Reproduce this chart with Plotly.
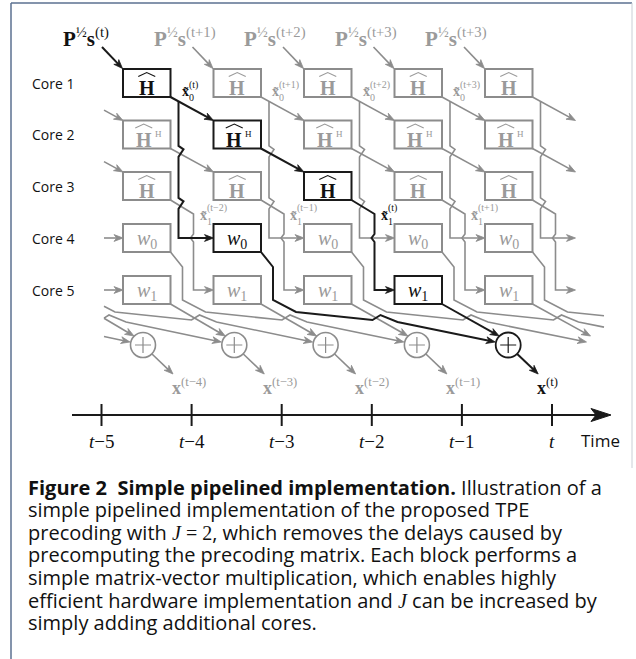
import math
import plotly.graph_objects as go

# ---------------- data ----------------
CORES = ["Core 1", "Core 2", "Core 3", "Core 4", "Core 5"]
BLOCKS = ["H", "HH", "H", "w0", "w1"]          # operation of each core
HIGHLIGHT = [0, 1, 2, 1, 3]                    # highlighted pipeline column per core
SUM_HIGHLIGHT = 4
INPUT_SUPS = ["(t)", "(t+1)", "(t+2)", "(t+3)", "(t+3)"]
X0_SUPS = ["(t)", "(t+1)", "(t+2)", "(t+3)"]
X1_SUPS = ["(t−2)", "(t−1)", "(t)", "(t+1)"]
OUT_SUPS = ["(t−4)", "(t−3)", "(t−2)", "(t−1)", "(t)"]
TIME_TICKS = ["−5", "−4", "−3", "−2", "−1", ""]
CAPTION = [
    "<b>Figure 2  Simple pipelined implementation.</b> Illustration of a",
    "simple pipelined implementation of the proposed TPE",
    "precoding with <span style=\"font-family:'Liberation Serif'\"><i>J</i> = 2</span>, which removes the delays caused by",
    "precomputing the precoding matrix. Each block performs a",
    "simple matrix-vector multiplication, which enables highly",
    "efficient hardware implementation and <span style=\"font-family:'Liberation Serif'\"><i>J</i></span> can be increased by",
    "simply adding additional cores.",
]

# ---------------- layout constants ----------------
W, H = 636, 659
X0, DX, BW, BH = 123.0, 90.5, 47.5, 28.0
ROWY = [83.0, 134.5, 186.0, 238.0, 290.0]
CX0, CDX, CY, CR = 143.0, 91.3, 345.0, 12.5
CLIP = (104.0, 604.0)
GRAY, GRAYT, BLK = "#8c8c8c", "#9a9a9a", "#1a1a1a"
SERIF = "Liberation Serif"
SANS = "Open Sans"

gray_sh, black_sh, top_sh, annots = [], [], [], []


def P(pts):
    return "M " + " L ".join(f"{x:.2f},{y:.2f}" for x, y in pts)


def clip_seg(a, b, lo, hi):
    (xa, ya), (xb, yb) = a, b
    t0, t1 = 0.0, 1.0
    dx = xb - xa
    if abs(dx) < 1e-9:
        if xa < lo or xa > hi:
            return None
    else:
        ta, tb = (lo - xa) / dx, (hi - xa) / dx
        t0 = max(t0, min(ta, tb))
        t1 = min(t1, max(ta, tb))
        if t0 > t1:
            return None
    return ((xa + t0 * dx, ya + t0 * (yb - ya)), (xa + t1 * dx, ya + t1 * (yb - ya)))


def clip_poly(pts, lo, hi):
    out, cur = [], []
    for a, b in zip(pts[:-1], pts[1:]):
        s = clip_seg(a, b, lo, hi)
        if s is None:
            if cur:
                out.append(cur)
                cur = []
            continue
        p, q = s
        if cur and abs(cur[-1][0] - p[0]) < 1e-6 and abs(cur[-1][1] - p[1]) < 1e-6:
            cur.append(q)
        else:
            if cur:
                out.append(cur)
            cur = [p, q]
    if cur:
        out.append(cur)
    return out


def arrowhead(tip, prev, color, L=9.0, Wd=3.4):
    ux, uy = tip[0] - prev[0], tip[1] - prev[1]
    n = math.hypot(ux, uy)
    ux, uy = ux / n, uy / n
    bx, by = tip[0] - L * ux, tip[1] - L * uy
    nx, ny = -uy, ux
    p1 = (bx + Wd * nx, by + Wd * ny)
    p2 = (bx - Wd * nx, by - Wd * ny)
    notch = (tip[0] - 0.7 * L * ux, tip[1] - 0.7 * L * uy)
    return dict(type="path", path=P([tip, p1, notch, p2]) + " Z", fillcolor=color,
                line=dict(color=color, width=0.8), xref="x", yref="y")


def wire(pts, black=False, arrow=False, clip=True):
    color = BLK if black else GRAY
    width = 2.0 if black else 1.6
    target = black_sh if black else gray_sh
    draw = list(pts)
    if arrow:
        tip, prev = pts[-1], pts[-2]
        ux, uy = tip[0] - prev[0], tip[1] - prev[1]
        n = math.hypot(ux, uy)
        draw[-1] = (tip[0] - 5 * ux / n, tip[1] - 5 * uy / n)
    segs = clip_poly(draw, *CLIP) if clip else [draw]
    for s in segs:
        target.append(dict(type="path", path=P(s), line=dict(color=color, width=width),
                           xref="x", yref="y"))
    if arrow and (not clip or CLIP[0] <= pts[-1][0] <= CLIP[1]):
        target.append(arrowhead(pts[-1], pts[-2], color))


def hop(x, y):
    return [(x, y - 7), (x + 5, y - 3.5), (x, y + 4)]


def bump(x, y):
    return [(x, y - 4), (x - 3, y), (x, y + 4)]


top = [y - BH / 2 for y in ROWY]
bot = [y + BH / 2 for y in ROWY]

# ---------------- wiring ----------------
for i in range(-4, 5):
    x0 = X0 + i * DX
    x1 = x0 + BW
    xn = x0 + DX
    if i >= -1:
        wire([(x1, bot[0]), (xn, top[1])], black=(i == HIGHLIGHT[0]), arrow=True)
        xb = x1 + 8
        ya = bot[0] + (top[1] - bot[0]) / (xn - x1) * 8
        yc = bot[1] + (top[2] - bot[1]) / (xn - x1) * 8
        yd = bot[2] + 14 * 8 / 23
        pts = [(xb, ya)] + hop(xb, yc) + hop(xb, yd) + [(xb, ROWY[3]), (xn, ROWY[3])]
        wire(pts, black=(i == HIGHLIGHT[0]), arrow=True)
        wire([(x1, bot[1]), (xn, top[2])], black=(i == HIGHLIGHT[1]), arrow=True)
        xd = x1 + 23
        pts = [(x1, bot[2]), (xd, bot[2] + 14)] + bump(xd, ROWY[3]) + [(xd, ROWY[4]), (xn, ROWY[4])]
        wire(pts, black=(i == HIGHLIGHT[2]), arrow=True)
    cx = CX0 + (i + 3) * CDX
    pts = [(x1, bot[3]), (x1 + 12, bot[3] + 15), (x1 + 12, 300), (x1 + 35, 312),
           (x1 + 111.5, 320), (x1 + 119.5, 315), (x1 + 136.5, 322), (cx - CR - 0.5, CY - 3)]
    wire(pts, black=(i == HIGHLIGHT[3]), arrow=True)
    cx1 = CX0 + (i + 1) * CDX
    wire([(x1, bot[4]), (cx1 - 0.72 * CR, CY - 0.72 * CR)], black=(i == HIGHLIGHT[4]), arrow=True)

for i in range(5):
    x0 = X0 + i * DX
    wire([(x0 - 21, 47), (x0 - 0.5, 68.5)], black=(i == 0), arrow=True, clip=False)
for k in range(5):
    cx = CX0 + k * CDX
    wire([(cx + 0.72 * CR, CY + 0.72 * CR), (cx + 30, CY + 29)], black=(k == SUM_HIGHLIGHT),
         arrow=True, clip=False)

# ---------------- boxes & texts ----------------
for r in range(5):
    annots.append(dict(x=30, y=ROWY[r], text=CORES[r], xanchor="left", yanchor="middle",
                       showarrow=False, font=dict(family=SANS, size=14, color="#111111")))
    for i in range(5):
        hl = (i == HIGHLIGHT[r])
        x0 = X0 + i * DX
        x1 = x0 + BW
        xc = (x0 + x1) / 2
        col = BLK if hl else GRAY
        tcol = "#111111" if hl else GRAYT
        top_sh.append(dict(type="rect", x0=x0, x1=x1, y0=top[r], y1=bot[r], xref="x", yref="y",
                           line=dict(color=col, width=2.0), fillcolor="white"))
        b = BLOCKS[r]
        if b in ("H", "HH"):
            hx = xc if b == "H" else xc - 3
            annots.append(dict(x=hx, y=ROWY[r] + 5, text="<b>H</b>", showarrow=False,
                               xanchor="center", yanchor="middle",
                               font=dict(family=SERIF, size=20, color=tcol)))
            top_sh.append(dict(type="path", xref="x", yref="y",
                               path=P([(hx - 8.5, ROWY[r] - 6.5), (hx, ROWY[r] - 10.5),
                                       (hx + 8.5, ROWY[r] - 6.5)]),
                               line=dict(color=tcol, width=1.1)))
            if b == "HH":
                annots.append(dict(x=hx + 9, y=ROWY[r] - 1, text="H", showarrow=False,
                                   xanchor="left", yanchor="middle",
                                   font=dict(family=SERIF, size=9, color=tcol)))
        else:
            annots.append(dict(x=xc, y=ROWY[r] + 1, text="<i>w</i><sub>" + b[1] + "</sub>",
                               showarrow=False, xanchor="center", yanchor="middle",
                               font=dict(family=SERIF, size=20, color=tcol)))

for k in range(5):
    hl = (k == SUM_HIGHLIGHT)
    cx = CX0 + k * CDX
    col = BLK if hl else GRAY
    top_sh.append(dict(type="circle", xref="x", yref="y", x0=cx - CR, x1=cx + CR,
                       y0=CY - CR, y1=CY + CR, line=dict(color=col, width=1.8 if hl else 1.6),
                       fillcolor="white"))
    top_sh.append(dict(type="path", xref="x", yref="y",
                       path=P([(cx - 8, CY), (cx + 8, CY)]) + " " + P([(cx, CY - 8), (cx, CY + 8)]),
                       line=dict(color=col, width=1.2)))
    annots.append(dict(x=cx + 27, y=386, text="<b>x</b><sup>" + OUT_SUPS[k] + "</sup>",
                       showarrow=False, xanchor="left", yanchor="middle",
                       font=dict(family=SERIF, size=18, color="#111111" if hl else GRAYT)))

for i in range(5):
    x0 = X0 + i * DX
    annots.append(dict(x=x0 - 62, y=37,
                       text="<b>P</b><sup>½</sup><b>s</b><sup>" + INPUT_SUPS[i] + "</sup>",
                       showarrow=False, xanchor="left", yanchor="middle",
                       font=dict(family=SERIF, size=21, color="#111111" if i == 0 else GRAYT)))

for i in range(4):
    x1 = X0 + i * DX + BW
    c0 = "#111111" if i == HIGHLIGHT[0] else GRAYT
    annots.append(dict(x=x1 + 9, y=91, text="<b>x\u0303</b>", showarrow=False, xanchor="left",
                       yanchor="middle", font=dict(family=SERIF, size=14, color=c0)))
    annots.append(dict(x=x1 + 16, y=85, text=X0_SUPS[i], showarrow=False, xanchor="left",
                       yanchor="middle", font=dict(family=SERIF, size=10, color=c0)))
    annots.append(dict(x=x1 + 16, y=97, text="0", showarrow=False, xanchor="left",
                       yanchor="middle", font=dict(family=SERIF, size=10, color=c0)))
    c1 = "#111111" if i == HIGHLIGHT[2] else GRAYT
    annots.append(dict(x=x1 + 27, y=215, text="<b>x\u0303</b>", showarrow=False, xanchor="left",
                       yanchor="middle", font=dict(family=SERIF, size=14, color=c1)))
    annots.append(dict(x=x1 + 34, y=208, text=X1_SUPS[i], showarrow=False, xanchor="left",
                       yanchor="middle", font=dict(family=SERIF, size=10, color=c1)))
    annots.append(dict(x=x1 + 34, y=221, text="1", showarrow=False, xanchor="left",
                       yanchor="middle", font=dict(family=SERIF, size=10, color=c1)))

# ---------------- time axis ----------------
AX_Y = 415
top_sh.append(dict(type="path", xref="x", yref="y", path=P([(72, AX_Y), (598, AX_Y)]),
                   line=dict(color=BLK, width=2)))
top_sh.append(dict(type="path", xref="x", yref="y",
                   path=P([(611, AX_Y), (591, AX_Y - 6.5), (596, AX_Y), (591, AX_Y + 6.5)]) + " Z",
                   fillcolor=BLK, line=dict(color=BLK, width=1)))
for j, lab in enumerate(TIME_TICKS):
    tx = 101.5 + 90.1 * j
    top_sh.append(dict(type="path", xref="x", yref="y", path=P([(tx, AX_Y - 11), (tx, AX_Y + 11)]),
                       line=dict(color=BLK, width=2)))
    annots.append(dict(x=tx, y=441, text="<i>t</i>" + lab, showarrow=False, xanchor="center",
                       yanchor="middle", font=dict(family=SERIF, size=19, color="#111111")))
annots.append(dict(x=579, y=440, text="Time", showarrow=False, xanchor="left", yanchor="middle",
                   font=dict(family=SANS, size=17, color="#111111")))

# ---------------- caption ----------------
for k, line in enumerate(CAPTION):
    annots.append(dict(x=26, y=487 + 22.6 * k, text=line, showarrow=False, xanchor="left",
                       yanchor="middle", font=dict(family=SANS, size=20, color="#111111")))

# ---------------- frame ----------------
frame = [
    dict(type="line", xref="x", yref="y", x0=11, x1=11, y0=3, y1=659, line=dict(color="#5b7190", width=1.5)),
    dict(type="line", xref="x", yref="y", x0=11, x1=632, y0=3, y1=3, line=dict(color="#5b7190", width=1.5)),
    dict(type="line", xref="x", yref="y", x0=632, x1=632, y0=3, y1=468, line=dict(color="#c9ced6", width=1)),
]

fig = go.Figure(go.Scatter(x=[0], y=[0], mode="markers", marker=dict(opacity=0), hoverinfo="skip",
                           showlegend=False))
fig.update_layout(
    width=W, height=H, margin=dict(l=0, r=0, t=0, b=0),
    paper_bgcolor="white", plot_bgcolor="white",
    xaxis=dict(range=[0, W], visible=False, fixedrange=True),
    yaxis=dict(range=[H, 0], visible=False, fixedrange=True),
    shapes=gray_sh + black_sh + top_sh + frame,
    annotations=annots, showlegend=False,
)
fig.write_html("out.html", config={"displayModeBar": False},
               post_script="document.body.style.margin='0px';document.body.style.overflow='hidden';")
